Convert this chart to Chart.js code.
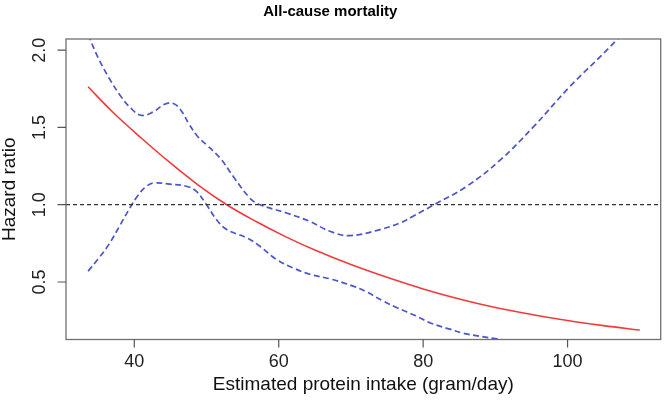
<!DOCTYPE html>
<html><head><meta charset="utf-8">
<script src="https://cdn.jsdelivr.net/npm/chart.js@4/dist/chart.umd.min.js"></script>
<style>html,body{margin:0;padding:0;background:#fff}#wrap{width:665px;height:407px;position:relative}</style>
</head><body><div id="wrap"><canvas id="c"></canvas></div>
<script>
// ---- data ----
const chartTitle = 'All-cause mortality';
const xAxisTitle = 'Estimated protein intake (gram/day)';
const yAxisTitle = 'Hazard ratio';
const xTicks = [40, 60, 80, 100];
const yTicks = [0.5, 1.0, 1.5, 2.0];
const xRange = [30.54, 112.9];
const yRange = [0.128, 2.072];
const referenceHR = 1.0;

// hazard ratio estimate (red)
const estX  = [33.6, 37, 41, 45, 49, 52.8, 57, 61, 65, 70, 75, 80, 85, 90, 95, 100, 105, 110];
const estHR = [1.763, 1.60, 1.43, 1.27, 1.122, 1.0, 0.888, 0.792, 0.707, 0.613, 0.53, 0.455, 0.39, 0.335, 0.29, 0.251, 0.218, 0.189];

// upper 95% confidence limit (blue dashed)
const upperX  = [33.6, 35.0, 36.5, 38.0, 39.5, 41.0, 42.6, 44.2, 45.4, 46.4, 47.6, 48.8, 50.0, 51.9, 53.7, 56.0, 57.4, 61.1, 64.3, 67.1, 69.8, 74.0, 76.8, 78.6, 81.5, 86.0, 90.7, 95.3, 100.3, 106.9, 110];
const upperHR = [2.10, 1.95, 1.82, 1.71, 1.625, 1.578, 1.60, 1.65, 1.655, 1.615, 1.52, 1.44, 1.387, 1.301, 1.183, 1.043, 1.0, 0.946, 0.892, 0.828, 0.80, 0.839, 0.882, 0.925, 1.0, 1.118, 1.29, 1.505, 1.763, 2.071, 2.25];

// lower 95% confidence limit (blue dashed)
const lowerX  = [33.6, 35.0, 36.5, 38.0, 39.4, 40.5, 41.5, 42.6, 44.9, 47.3, 48.6, 50.0, 51.4, 52.8, 55.6, 57.4, 59.7, 62.0, 64.3, 67.3, 70.3, 72.0, 74.5, 76.3, 79.1, 81.0, 83.7, 85.6, 90.2, 95, 100, 110];
const lowerHR = [0.570, 0.65, 0.745, 0.865, 0.98, 1.06, 1.112, 1.14, 1.133, 1.118, 1.086, 1.0, 0.903, 0.839, 0.785, 0.731, 0.645, 0.591, 0.55, 0.518, 0.473, 0.44, 0.376, 0.335, 0.279, 0.235, 0.195, 0.168, 0.132, 0.10, 0.08, 0.05];

// ---- chart ----
const FONT = "'Liberation Sans', Arial, Helvetica, sans-serif";
const pts = (xs, ys) => xs.map((x, i) => ({x: x, y: ys[i]}));

const frame = {
  id: 'frame',
  afterDraw(chart) {
    const {ctx, chartArea: a, scales: {x, y}} = chart;
    ctx.save();
    ctx.strokeStyle = '#707070';
    ctx.lineWidth = 1.3;
    ctx.strokeRect(a.left, a.top, a.right - a.left, a.bottom - a.top);
    ctx.strokeStyle = '#555';
    ctx.lineWidth = 1.2;
    ctx.beginPath();
    xTicks.forEach(v => { const px = x.getPixelForValue(v); ctx.moveTo(px, a.bottom); ctx.lineTo(px, a.bottom + 8); });
    yTicks.forEach(v => { const py = y.getPixelForValue(v); ctx.moveTo(a.left, py); ctx.lineTo(a.left - 8.5, py); });
    ctx.stroke();
    ctx.fillStyle = '#222';
    ctx.font = '18px ' + FONT;
    ctx.textAlign = 'center';
    ctx.textBaseline = 'middle';
    yTicks.forEach(v => {
      const py = y.getPixelForValue(v);
      ctx.save();
      ctx.translate(a.left - 25.5, py);
      ctx.rotate(-Math.PI / 2);
      ctx.fillText(v.toFixed(1), 0, 0);
      ctx.restore();
    });
    ctx.restore();
  }
};

new Chart(document.getElementById('c'), {
  type: 'line',
  data: {
    datasets: [
      {data: pts(xRange, [referenceHR, referenceHR]), borderColor: '#333', borderWidth: 1.2, borderDash: [4, 3], pointRadius: 0, tension: 0},
      {data: pts(upperX, upperHR), borderColor: '#4a56c8', borderWidth: 1.7, borderDash: [6, 3.5], pointRadius: 0, tension: 0.4},
      {data: pts(lowerX, lowerHR), borderColor: '#4a56c8', borderWidth: 1.7, borderDash: [6, 3.5], pointRadius: 0, tension: 0.4},
      {data: pts(estX, estHR), borderColor: '#f23a3a', borderWidth: 1.6, pointRadius: 0, tension: 0.4}
    ]
  },
  options: {
    responsive: true, maintainAspectRatio: false, animation: false,
    layout: {padding: {left: 0, right: 4.3, top: 0, bottom: 0}},
    plugins: {
      legend: {display: false}, tooltip: {enabled: false},
      title: {display: true, text: chartTitle, color: '#000', font: {family: FONT, size: 15, weight: 'bold', lineHeight: 1.2}, padding: {top: 3, bottom: 18}}
    },
    scales: {
      x: {
        type: 'linear', min: xRange[0], max: xRange[1],
        afterBuildTicks: s => { s.ticks = xTicks.map(v => ({value: v})); },
        afterFit: s => { s.height = 67.5; },
        grid: {display: false, drawTicks: false}, border: {display: false},
        ticks: {color: '#222', font: {family: FONT, size: 18}, padding: 12, maxRotation: 0, autoSkip: false},
        title: {display: true, text: xAxisTitle, color: '#111', font: {family: FONT, size: 19, lineHeight: 1}, padding: {top: 0, bottom: 12.5}}
      },
      y: {
        type: 'linear', min: yRange[0], max: yRange[1],
        afterBuildTicks: s => { s.ticks = yTicks.map(v => ({value: v})); },
        afterFit: s => { s.width = 66; },
        grid: {display: false, drawTicks: false}, border: {display: false},
        ticks: {display: false},
        title: {display: true, text: yAxisTitle, color: '#111', font: {family: FONT, size: 19, lineHeight: 1}, padding: {top: 0, bottom: 0}}
      }
    }
  },
  plugins: [frame]
});
</script>
</body></html>
